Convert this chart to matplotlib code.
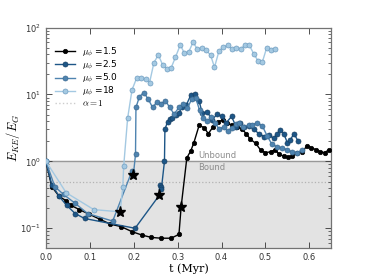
import matplotlib
matplotlib.use("Agg")
import matplotlib.pyplot as plt
from matplotlib.ticker import FixedLocator

plt.rcParams["mathtext.fontset"] = "cm"
plt.rcParams["font.family"] = "DejaVu Sans"

# mu_phi = 1.5
t_15 = [0.0, 0.013, 0.03, 0.045, 0.057, 0.076, 0.097, 0.122, 0.147, 0.171, 0.196,
        0.219, 0.24, 0.262, 0.285, 0.303, 0.308, 0.321, 0.330, 0.337, 0.349, 0.36,
        0.37, 0.381, 0.393, 0.403, 0.413, 0.425, 0.435, 0.446, 0.456, 0.466, 0.478,
        0.489, 0.5, 0.512, 0.523, 0.531, 0.542, 0.551, 0.561, 0.572, 0.584, 0.595,
        0.605, 0.615, 0.625, 0.635, 0.644]
e_15 = [1.0, 0.42, 0.3, 0.26, 0.22, 0.19, 0.164, 0.137, 0.115, 0.106, 0.089,
        0.079, 0.073, 0.071, 0.071, 0.081, 0.21, 1.13, 1.44, 1.9, 3.46, 3.2,
        2.6, 3.3, 3.9, 4.2, 3.7, 3.5, 3.3, 3.1, 2.6, 2.14, 1.86,
        1.48, 1.35, 1.39, 1.5, 1.27, 1.2, 1.15, 1.2, 1.32, 1.39, 1.71,
        1.6, 1.5, 1.39, 1.35, 1.48]

# mu_phi = 2.5
t_25 = [0.0, 0.013, 0.03, 0.047, 0.067, 0.088, 0.203, 0.258, 0.26, 0.262, 0.263,
        0.27, 0.271, 0.277, 0.282, 0.288, 0.296, 0.303, 0.311, 0.32, 0.33, 0.34,
        0.349, 0.356, 0.367, 0.379, 0.39, 0.4, 0.411, 0.423, 0.433, 0.443, 0.451,
        0.462, 0.474, 0.485, 0.497, 0.508, 0.519, 0.527, 0.534, 0.542, 0.55,
        0.557, 0.565, 0.575]
e_25 = [1.0, 0.45, 0.3, 0.22, 0.165, 0.14, 0.1, 0.31, 0.45, 0.41, 0.39,
        1.0, 3.0, 3.9, 4.3, 4.4, 4.9, 5.3, 6.6, 7.0, 9.8, 10.2,
        8.1, 5.2, 5.5, 4.2, 5.1, 4.7, 3.8, 4.7, 3.3, 3.7, 3.3,
        3.4, 3.0, 2.6, 2.35, 2.5, 2.2, 2.6, 2.95, 2.6, 1.9,
        2.1, 2.6, 1.99]

# mu_phi = 5.0
t_50 = [0.0, 0.02, 0.04, 0.065, 0.095, 0.152, 0.196, 0.199, 0.204, 0.205, 0.213,
        0.223, 0.233, 0.243, 0.253, 0.263, 0.272, 0.282, 0.292, 0.303, 0.313,
        0.322, 0.332, 0.341, 0.35, 0.358, 0.367, 0.377, 0.386, 0.395, 0.405,
        0.414, 0.424, 0.434, 0.44, 0.45, 0.462, 0.47, 0.481, 0.493, 0.504, 0.515,
        0.527, 0.538, 0.55, 0.561, 0.572, 0.584]
e_50 = [1.0, 0.42, 0.32, 0.24, 0.166, 0.128, 0.72, 0.62, 1.27, 6.4, 9.3,
        10.7, 8.5, 6.4, 7.8, 7.3, 8.1, 6.4, 5.1, 6.4, 7.2,
        6.2, 8.5, 9.0, 5.8, 4.4, 4.0, 4.6, 3.7, 3.0, 3.3,
        2.8, 3.2, 3.6, 3.7, 3.3, 3.5, 3.5, 3.8, 3.4, 2.4, 1.8,
        1.65, 1.6, 1.48, 1.39, 1.35, 1.48]

# mu_phi = 18
t_18 = [0.0, 0.046, 0.109, 0.169, 0.175, 0.177, 0.186, 0.196, 0.207, 0.217, 0.227,
        0.236, 0.246, 0.256, 0.266, 0.276, 0.285, 0.295, 0.306, 0.315, 0.325,
        0.335, 0.345, 0.355, 0.365, 0.375, 0.384, 0.394, 0.403, 0.414, 0.424,
        0.434, 0.444, 0.454, 0.463, 0.474, 0.483, 0.493, 0.503, 0.513, 0.522]
e_18 = [1.0, 0.34, 0.19, 0.176, 0.41, 0.84, 4.4, 11.7, 17.9, 17.5, 16.9,
        15.0, 30, 39, 27.6, 24.2, 24.8, 36, 55, 42, 43,
        60, 48, 49, 45.5, 39, 25.5, 44, 51, 54, 48,
        50, 48, 55, 55, 40, 32, 30.5, 50, 46, 48.7]

# first unbound crossing (stars)
star_t = [0.308, 0.258, 0.199, 0.169]
star_e = [0.21, 0.31, 0.62, 0.176]

labels = [r"$\mu_\phi$ =1.5", r"$\mu_\phi$ =2.5", r"$\mu_\phi$ =5.0", r"$\mu_\phi$ =18"]
colors = ["#000000", "#1d5687", "#4f84b0", "#a4c9e2"]
edges = ["#000000", "#173f63", "#3b6a91", "#6f9dc0"]

fig = plt.figure(figsize=(3.68, 2.76), dpi=100)
ax = fig.add_axes([0.125, 0.1, 0.775, 0.8])

ax.axhspan(0.05, 1.0, color="#e3e3e3", zorder=0)
ax.axhline(1.0, color="0.6", lw=1.0, zorder=1)
ax.axhline(0.5, color="0.7", lw=0.9, ls=":", zorder=1)

series = [(t_15, e_15), (t_25, e_25), (t_50, e_50), (t_18, e_18)]
for (t, e), lab, c, ec in zip(series, labels, colors, edges):
    ms = 3.2 if c == "#000000" else 3.6
    ax.plot(t, e, "-o", color=c, lw=1.0, ms=ms, mfc=c, mec=ec, mew=0.5,
            label=lab, zorder=3)
ax.plot([], [], ls=":", color="0.8", lw=1.0, label=r"$\alpha=1$")

ax.plot(star_t, star_e, "*", color="k", ms=8, ls="none", zorder=5)

ax.text(0.347, 1.04, "Unbound", color="0.55", fontsize=6, va="bottom")
ax.text(0.347, 0.96, "Bound", color="0.55", fontsize=6, va="top")

ax.set_yscale("log")
ax.set_xlim(0, 0.65)
ax.set_ylim(0.05, 100)
ax.xaxis.set_major_locator(FixedLocator([0.0, 0.1, 0.2, 0.3, 0.4, 0.5, 0.6]))
ax.tick_params(which="both", direction="in", top=True, right=True,
               labelsize=6, colors="0.2")
ax.tick_params(which="major", length=4, width=0.6)
ax.tick_params(which="minor", length=2, width=0.5)
for s in ax.spines.values():
    s.set_color("0.45")
    s.set_linewidth(0.9)

ax.set_xlabel("t (Myr)", family="DejaVu Serif", fontsize=8, labelpad=1)
ax.set_ylabel(r"$E_{KE}/E_G$", fontsize=9)
ax.yaxis.set_label_coords(-0.085, 0.5)

leg = ax.legend(loc="upper left", bbox_to_anchor=(0.0, 0.958), frameon=False,
                fontsize=6.5, handlelength=2.2, labelspacing=0.0,
                handletextpad=0.8, borderaxespad=0.6)

fig.savefig("out.png", dpi=100)
